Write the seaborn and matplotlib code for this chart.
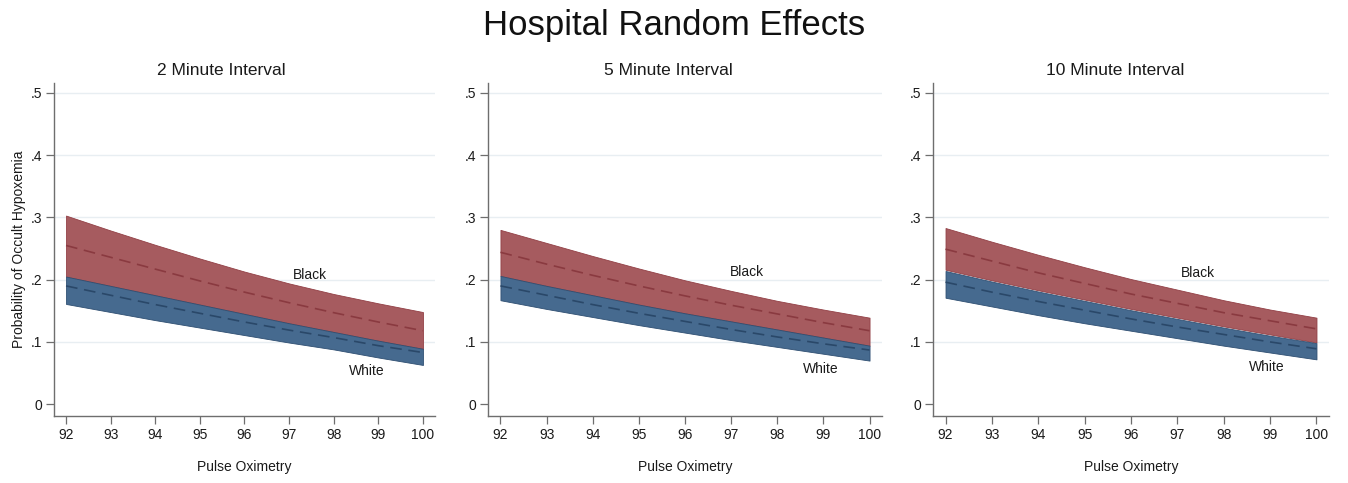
import numpy as np
import pandas as pd
import matplotlib
matplotlib.use("Agg")
import matplotlib.pyplot as plt
import seaborn as sns

sns.set_style("white")
plt.rcParams["font.family"] = ["Liberation Sans", "DejaVu Sans"]

spo2 = [92, 93, 94, 95, 96, 97, 98, 99, 100]
panels = ["2 Minute Interval", "5 Minute Interval", "10 Minute Interval"]

# Predicted probability (mean, lower, upper) by race for each interval
black_mean_2 = [0.255, 0.236, 0.217, 0.198, 0.180, 0.163, 0.147, 0.132, 0.118]
black_lo_2 = [0.205, 0.190, 0.175, 0.160, 0.145, 0.130, 0.116, 0.102, 0.089]
black_hi_2 = [0.303, 0.279, 0.256, 0.234, 0.213, 0.194, 0.177, 0.162, 0.148]
white_mean_2 = [0.190, 0.175, 0.160, 0.146, 0.132, 0.119, 0.107, 0.094, 0.083]
white_lo_2 = [0.161, 0.148, 0.135, 0.123, 0.111, 0.099, 0.088, 0.075, 0.063]
white_hi_2 = [0.205, 0.190, 0.175, 0.160, 0.145, 0.130, 0.116, 0.102, 0.089]

black_mean_5 = [0.244, 0.225, 0.207, 0.190, 0.174, 0.159, 0.145, 0.131, 0.118]
black_lo_5 = [0.206, 0.190, 0.175, 0.160, 0.146, 0.133, 0.120, 0.107, 0.094]
black_hi_5 = [0.280, 0.259, 0.238, 0.218, 0.199, 0.182, 0.166, 0.152, 0.139]
white_mean_5 = [0.190, 0.175, 0.160, 0.146, 0.133, 0.120, 0.108, 0.097, 0.087]
white_lo_5 = [0.167, 0.153, 0.140, 0.127, 0.115, 0.103, 0.092, 0.081, 0.070]
white_hi_5 = [0.206, 0.190, 0.175, 0.160, 0.146, 0.133, 0.120, 0.107, 0.094]

black_mean_10 = [0.249, 0.230, 0.211, 0.194, 0.177, 0.162, 0.147, 0.134, 0.121]
black_lo_10 = [0.216, 0.199, 0.183, 0.168, 0.153, 0.139, 0.125, 0.112, 0.099]
black_hi_10 = [0.283, 0.261, 0.240, 0.220, 0.201, 0.184, 0.167, 0.152, 0.139]
white_mean_10 = [0.196, 0.180, 0.165, 0.151, 0.137, 0.124, 0.112, 0.100, 0.089]
white_lo_10 = [0.171, 0.157, 0.143, 0.130, 0.118, 0.106, 0.094, 0.083, 0.072]
white_hi_10 = [0.214, 0.197, 0.181, 0.166, 0.151, 0.137, 0.123, 0.110, 0.098]

series = [
    (black_mean_2, black_lo_2, black_hi_2, white_mean_2, white_lo_2, white_hi_2),
    (black_mean_5, black_lo_5, black_hi_5, white_mean_5, white_lo_5, white_hi_5),
    (black_mean_10, black_lo_10, black_hi_10, white_mean_10, white_lo_10, white_hi_10),
]
black_label_pos = [(97.47, 0.208), (97.35, 0.212), (97.44, 0.211)]
white_label_pos = [(98.74, 0.054), (98.94, 0.056), (98.93, 0.060)]

yticks = [0, 0.1, 0.2, 0.3, 0.4, 0.5]
ytick_labels = ["0", ".1", ".2", ".3", ".4", ".5"]

red_fill = "#a65b5f"
red_edge = "#923f45"
blue_fill = "#466a8f"
blue_edge = "#2f4f72"
axis_col = "#6e6e6e"
text_col = "#1a1a1a"

fig = plt.figure(figsize=(13.48, 4.83), dpi=100)
W, H = 1348, 483
lefts = [54, 488, 933]
rights = [435, 882, 1329]
title_centers = [221, 668, 1115]
top_px, bot_px = 83, 416

for i, title in enumerate(panels):
    ax = fig.add_axes([lefts[i] / W, 1 - bot_px / H,
                       (rights[i] - lefts[i]) / W, (bot_px - top_px) / H])
    bm, bl, bh, wm, wl, wh = series[i]
    ax.fill_between(spo2, bl, bh, color=red_fill, lw=0.6, edgecolor=red_edge, zorder=2)
    ax.fill_between(spo2, wl, wh, color=blue_fill, lw=0.6, edgecolor=blue_edge, zorder=3)
    df = pd.DataFrame({"x": spo2 * 2, "y": bm + wm,
                       "race": ["Black"] * len(spo2) + ["White"] * len(spo2)})
    sns.lineplot(data=df, x="x", y="y", hue="race",
                 palette={"Black": "#8a3a40", "White": "#2a4869"},
                 dashes=False, linestyle=(0, (7, 4)), lw=1.2,
                 legend=False, ax=ax, zorder=4)
    ax.text(*black_label_pos[i], "Black", fontsize=10, ha="center", va="center",
            color=text_col, zorder=5)
    ax.text(*white_label_pos[i], "White", fontsize=10, ha="center", va="center",
            color=text_col, zorder=5)

    ax.set_xlim(91.73, 100.27)
    ax.set_ylim(-0.019, 0.516)
    ax.set_xticks(spo2)
    ax.set_xticklabels([str(v) for v in spo2], fontsize=10)
    ax.set_yticks(yticks)
    ax.set_yticklabels(ytick_labels, fontsize=10)
    for y in yticks[1:]:
        ax.axhline(y, color="#e8eef2", lw=1.0, zorder=1)
    for s in ["top", "right"]:
        ax.spines[s].set_visible(False)
    for s in ["left", "bottom"]:
        ax.spines[s].set_color(axis_col)
        ax.spines[s].set_linewidth(1.0)
    ax.tick_params(axis="both", direction="out", length=5.5, width=0.9,
                   color=axis_col, pad=3, labelcolor=text_col,
                   bottom=True, left=True)
    # panel title centred on the graph region
    xc = (title_centers[i] - lefts[i]) / (rights[i] - lefts[i])
    ax.text(xc, 1 + 13 / (bot_px - top_px), title, transform=ax.transAxes,
            fontsize=12.5, ha="center", va="center", color=text_col)
    ax.set_xlabel("Pulse Oximetry", fontsize=10, labelpad=13, color=text_col)
    if i == 0:
        ax.set_ylabel("Probability of Occult Hypoxemia", fontsize=10,
                      labelpad=3, color=text_col)
    else:
        ax.set_ylabel("")

fig.text(0.5, 1 - 25 / H, "Hospital Random Effects", fontsize=25,
         ha="center", va="center", color="#111111")

fig.savefig("out.png", dpi=100, facecolor="white")
